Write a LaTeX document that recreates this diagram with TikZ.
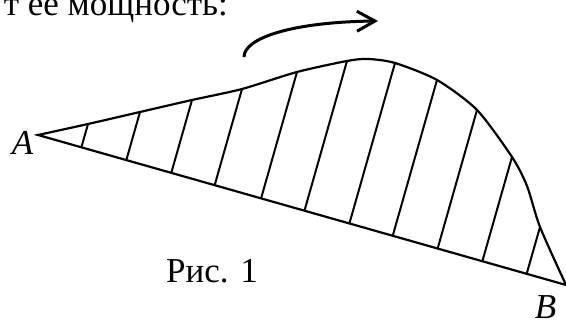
\documentclass[tikz,border=0pt]{standalone}
\usepackage{fontspec}
\setmainfont{Liberation Serif}
\usetikzlibrary{arrows.meta,calc}
\tikzset{lbl/.style={font=\fontsize{17.5}{21}\selectfont, inner sep=0pt}}

\begin{document}
\begin{tikzpicture}[x=0.5pt, y=-0.5pt, line width=1.1pt]
 \useasboundingbox (0,0) rectangle (566,324);
 \clip (0,0) rectangle (566,324);
 \node[lbl, anchor=base east] (head) at (229,16) {т ее мощность:};
 \coordinate (A) at (38,135);
 \coordinate (B) at (566,285);
 \foreach \x/\y [count=\i] in {88/124,140/112,192/100,242/89,297/72,347/61,395/63,437/80,477/110,512/157,540/227}
  \coordinate (t\i) at (\x,\y);
 \draw plot[smooth, tension=0.45] coordinates {(A) (t1) (t2) (t3) (t4) (t5) (t6) (368,59) (t7) (t8) (t9) (t10) (527,186) (t11) (B)} -- cycle;
 \foreach \i in {1,...,11}
  \draw[line width=1pt] (t\i) -- ($(A)!(t\i)!(B)$);
 \draw[line width=1.5pt, -{Straight Barb[length=9pt,width=10pt]}] (244,57) .. controls (244,38) and (292,22) .. (378,21);
 \node[lbl, anchor=base] (labA) at (22.5,155) {\textit{A}};
 \node[lbl, anchor=base] (labB) at (545.5,319) {\textit{B}};
 \node[lbl, anchor=base] (caption) at (212,283) {Рис. 1};
\end{tikzpicture}
\end{document}
